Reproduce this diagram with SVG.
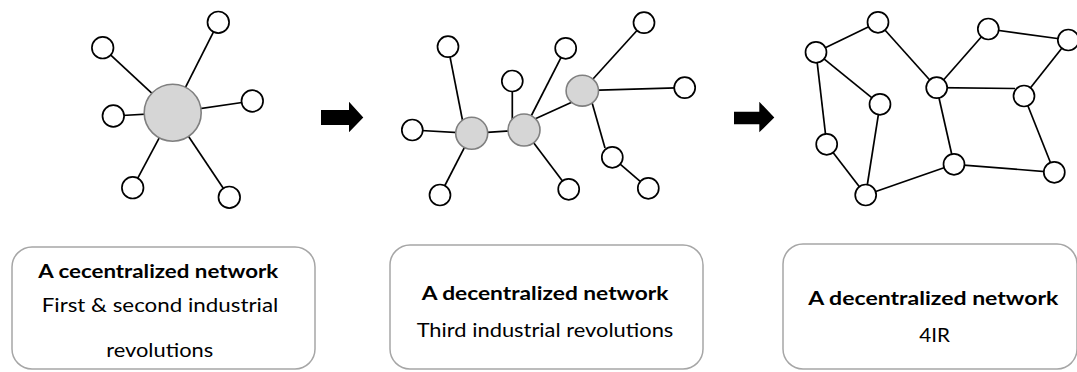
<svg xmlns="http://www.w3.org/2000/svg" width="1077" height="372" viewBox="0 0 1077 372">
  <style>
    .edge { stroke: #000; stroke-width: 1.7; fill: none; }
    .leaf { fill: #fff; stroke: #000; stroke-width: 1.7; }
    .hub { fill: #d6d6d6; stroke: #808080; stroke-width: 1.6; }
    .arrow { fill: #000; }
    .card { fill: #fff; stroke: #a6a6a6; stroke-width: 1.5; }
    .title { font-family: Lato, "Open Sans", "Liberation Sans", sans-serif; font-size: 19.5px; font-weight: bold; fill: #000; text-anchor: middle; }
    .sub { font-family: Lato, "Open Sans", "Liberation Sans", sans-serif; font-size: 19.5px; fill: #000; text-anchor: middle; }
  </style>
  <rect width="1077" height="372" fill="#fff"/>

  <!-- connectors -->
  <g id="connectors">
    <!-- centralized star -->
    <line class="edge" x1="172.7" y1="112.7" x2="102.7" y2="47.7"/>
    <line class="edge" x1="172.7" y1="112.7" x2="218.3" y2="22.3"/>
    <line class="edge" x1="172.7" y1="112.7" x2="252.3" y2="101"/>
    <line class="edge" x1="172.7" y1="112.7" x2="113.3" y2="116"/>
    <line class="edge" x1="172.7" y1="112.7" x2="132.7" y2="187.7"/>
    <line class="edge" x1="172.7" y1="112.7" x2="229.3" y2="197.3"/>
    <!-- decentralized, three hubs -->
    <line class="edge" x1="448" y1="46.7" x2="465" y2="133"/>
    <line class="edge" x1="412.3" y1="130" x2="471.7" y2="133.3"/>
    <line class="edge" x1="440" y1="195" x2="471.7" y2="133.3"/>
    <line class="edge" x1="471.7" y1="133.3" x2="524" y2="130"/>
    <line class="edge" x1="512.3" y1="81" x2="512.3" y2="120"/>
    <line class="edge" x1="565.7" y1="48.3" x2="524" y2="130"/>
    <line class="edge" x1="524" y1="130" x2="568.7" y2="189.3"/>
    <line class="edge" x1="526" y1="123" x2="580" y2="98.5"/>
    <line class="edge" x1="582.3" y1="90.7" x2="644" y2="22.7"/>
    <line class="edge" x1="582.3" y1="90.7" x2="684.7" y2="87.7"/>
    <line class="edge" x1="589" y1="92" x2="605" y2="148"/>
    <line class="edge" x1="612.3" y1="157.3" x2="648.3" y2="188.3"/>
    <!-- distributed mesh -->
    <line class="edge" x1="816" y1="52.3" x2="878" y2="22.3"/>
    <line class="edge" x1="878" y1="22.3" x2="936.7" y2="87.7"/>
    <line class="edge" x1="816" y1="52.3" x2="880" y2="104.3"/>
    <line class="edge" x1="816" y1="52.3" x2="826.7" y2="144.3"/>
    <line class="edge" x1="880" y1="104.3" x2="865.7" y2="195"/>
    <line class="edge" x1="826.7" y1="144.3" x2="865.7" y2="195"/>
    <line class="edge" x1="865.7" y1="195" x2="954" y2="164.3"/>
    <line class="edge" x1="936.7" y1="87.7" x2="954" y2="164.3"/>
    <line class="edge" x1="936.7" y1="87.7" x2="988.3" y2="29"/>
    <line class="edge" x1="936.7" y1="87.7" x2="1015" y2="88.5"/>
    <line class="edge" x1="988.3" y1="29" x2="1068.3" y2="40"/>
    <line class="edge" x1="1068.3" y1="40" x2="1024" y2="96"/>
    <line class="edge" x1="1024" y1="96" x2="1054.3" y2="172.3"/>
    <line class="edge" x1="954" y1="164.3" x2="1054.3" y2="172.3"/>
  </g>

  <!-- centralized network -->
  <g id="net-centralized">
    <circle class="hub" cx="172.7" cy="112.7" r="28.5"/>
    <circle class="leaf" cx="102.7" cy="47.7" r="10.8"/>
    <circle class="leaf" cx="218.3" cy="22.3" r="10.8"/>
    <circle class="leaf" cx="252.3" cy="101" r="10.8"/>
    <circle class="leaf" cx="113.3" cy="116" r="10.8"/>
    <circle class="leaf" cx="132.7" cy="187.7" r="10.8"/>
    <circle class="leaf" cx="229.3" cy="197.3" r="10.8"/>
  </g>

  <!-- decentralized network -->
  <g id="net-decentralized">
    <circle class="hub" cx="471.7" cy="133.3" r="16"/>
    <circle class="hub" cx="524" cy="130" r="16"/>
    <ellipse class="hub" cx="582.3" cy="90.7" rx="16.2" ry="15.4"/>
    <circle class="leaf" cx="448" cy="46.7" r="10.5"/>
    <circle class="leaf" cx="412.3" cy="130" r="10.5"/>
    <circle class="leaf" cx="440" cy="195" r="10.5"/>
    <circle class="leaf" cx="512.3" cy="81" r="10.5"/>
    <circle class="leaf" cx="565.7" cy="48.3" r="10.5"/>
    <circle class="leaf" cx="568.7" cy="189.3" r="10.5"/>
    <circle class="leaf" cx="644" cy="22.7" r="10.5"/>
    <circle class="leaf" cx="684.7" cy="87.7" r="10.5"/>
    <circle class="leaf" cx="612.3" cy="157.3" r="10.5"/>
    <circle class="leaf" cx="648.3" cy="188.3" r="10.5"/>
  </g>

  <!-- distributed network -->
  <g id="net-distributed">
    <circle class="leaf" cx="878" cy="22.3" r="10.5"/>
    <circle class="leaf" cx="816" cy="52.3" r="10.5"/>
    <circle class="leaf" cx="880" cy="104.3" r="10.5"/>
    <circle class="leaf" cx="826.7" cy="144.3" r="10.5"/>
    <circle class="leaf" cx="865.7" cy="195" r="10.5"/>
    <circle class="leaf" cx="936.7" cy="87.7" r="10.5"/>
    <circle class="leaf" cx="988.3" cy="29" r="10.5"/>
    <circle class="leaf" cx="1068.3" cy="40" r="10.5"/>
    <circle class="leaf" cx="1024" cy="96" r="10.5"/>
    <circle class="leaf" cx="954" cy="164.3" r="10.5"/>
    <circle class="leaf" cx="1054.3" cy="172.3" r="10.5"/>
  </g>

  <!-- block arrows between stages -->
  <g id="arrow-1">
    <polygon class="arrow" points="321,110 349,110 349,101.7 363.3,117.5 349,132.3 349,125 321,125"/>
  </g>
  <g id="arrow-2">
    <polygon class="arrow" points="734,111.7 759.3,111.7 759.3,101.7 774.3,117.5 759.3,132.3 759.3,124.3 734,124.3"/>
  </g>

  <!-- captions -->
  <g id="caption-1">
    <rect class="card" x="12" y="247" width="303" height="122" rx="20"/>
    <text class="title" x="158.3" y="278.3" textLength="240" lengthAdjust="spacingAndGlyphs">A cecentralized network</text>
    <text class="sub" x="160" y="311.7" textLength="236.6" lengthAdjust="spacingAndGlyphs">First &amp; second industrial</text>
    <text class="sub" x="159.7" y="357.3" textLength="107" lengthAdjust="spacingAndGlyphs">revolutions</text>
  </g>
  <g id="caption-2">
    <rect class="card" x="390" y="245" width="313" height="124" rx="20"/>
    <text class="title" x="545" y="300" textLength="246.7" lengthAdjust="spacingAndGlyphs">A decentralized network</text>
    <text class="sub" x="545" y="336.7" textLength="256.7" lengthAdjust="spacingAndGlyphs">Third industrial revolutions</text>
  </g>
  <g id="caption-3">
    <rect class="card" x="783" y="244" width="294" height="125" rx="20"/>
    <text class="title" x="933.3" y="305" textLength="250" lengthAdjust="spacingAndGlyphs">A decentralized network</text>
    <text class="sub" x="934.7" y="341.7" textLength="30.7" lengthAdjust="spacingAndGlyphs">4IR</text>
  </g>
</svg>
